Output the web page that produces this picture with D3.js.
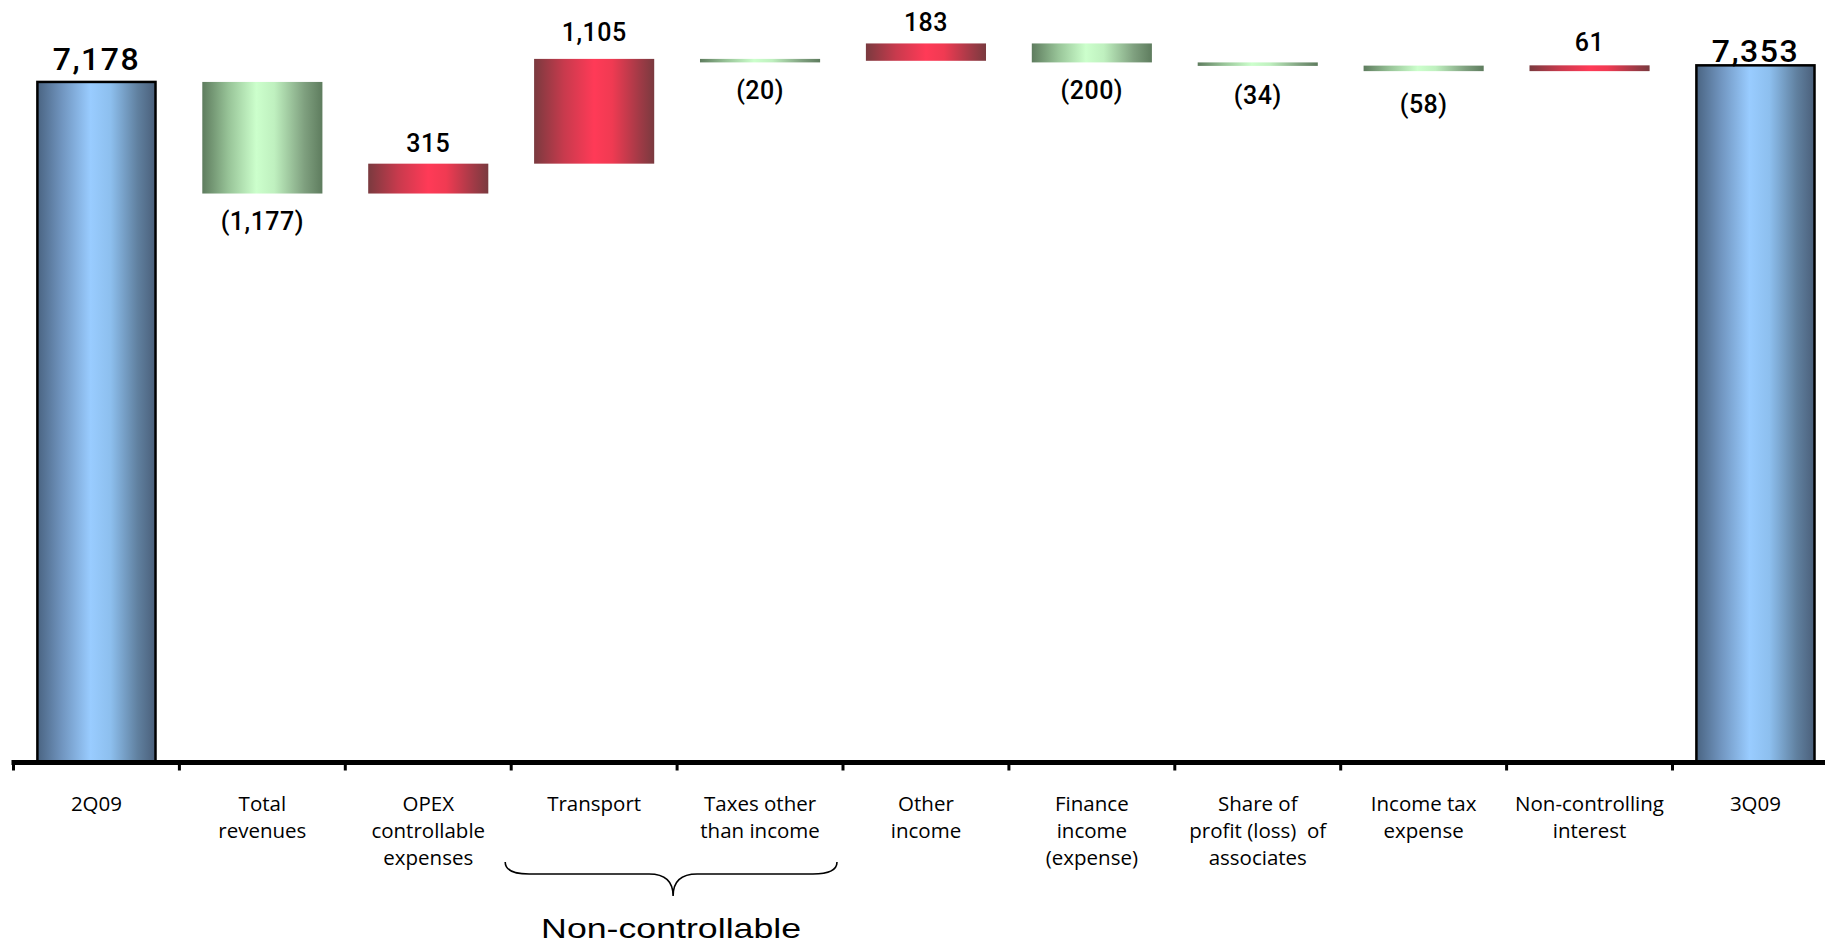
<!DOCTYPE html>
<html>
<head>
<meta charset="utf-8">
<script src="https://cdn.jsdelivr.net/npm/d3@7"></script>
<style>
  html, body { margin: 0; padding: 0; background: #ffffff; }
  svg { display: block; }
</style>
</head>
<body>
<svg id="chart" width="1825" height="944"></svg>
<script>
// Net income bridge, 2Q09 -> 3Q09
const categories = [
  "2Q09", "Total revenues", "OPEX controllable expenses", "Transport",
  "Taxes other than income", "Other income", "Finance income (expense)",
  "Share of profit (loss) of associates", "Income tax expense",
  "Non-controlling interest", "3Q09"
];
const categoryLines = [
  ["2Q09"], ["Total", "revenues"], ["OPEX", "controllable", "expenses"],
  ["Transport"], ["Taxes other", "than income"], ["Other", "income"],
  ["Finance", "income", "(expense)"], ["Share of", "profit (loss)  of", "associates"],
  ["Income tax", "expense"], ["Non-controlling", "interest"], ["3Q09"]
];
const values = [7178, -1177, 315, 1105, -20, 183, -200, -34, -58, 61, 7353];
const kinds = ["total", "delta", "delta", "delta", "delta", "delta", "delta", "delta", "delta", "delta", "total"];
const groupLabel = "Non-controllable";
const groupMembers = ["Transport", "Taxes other than income"];

// extra vertical offset (px) of each value label
const labelNudge = [0, 0, 0, -6, 2, 0, 1, 2, 6, -2, 0];

// running totals for the floating bars
let running = 0;
const bars = categories.map((c, i) => {
  let lo, hi;
  if (kinds[i] === "total") {
    running = values[i]; lo = 0; hi = values[i];
  } else {
    const start = running; running += values[i];
    lo = Math.min(start, running); hi = Math.max(start, running);
  }
  return { cat: c, lines: categoryLines[i], value: values[i], kind: kinds[i], lo, hi, nudge: labelNudge[i] };
});

const svg = d3.select("#chart");
const baseY = 762.5;

const x = d3.scaleBand()
  .domain(categories)
  .range([13.5, 13.5 + 11 * 165.9])
  .paddingInner(0.276)
  .paddingOuter(0.138);
const step = x.step();
const gapHalf = (step - x.bandwidth()) / 2;

const y = d3.scaleLinear().domain([0, 8000]).range([baseY, 4]);

// gradients
const defs = svg.append("defs");
function hGrad(id, stops) {
  const g = defs.append("linearGradient").attr("id", id)
    .attr("x1", "0%").attr("x2", "100%").attr("y1", "0%").attr("y2", "0%");
  stops.forEach(([o, c]) => g.append("stop").attr("offset", o).attr("stop-color", c));
}
hGrad("gBlue", [["0%", "#4a6482"], ["20%", "#6f93bd"], ["45%", "#99ccff"], ["62%", "#8dbfee"], ["85%", "#60809f"], ["100%", "#4a5f7a"]]);
hGrad("gGreen", [["0%", "#5e7c5e"], ["22%", "#98c498"], ["45%", "#ccffcc"], ["60%", "#bff0bf"], ["85%", "#7fa07f"], ["100%", "#5e7c5e"]]);
hGrad("gRed", [["0%", "#7a3a3f"], ["25%", "#c83a4d"], ["50%", "#ff3a57"], ["65%", "#f03a52"], ["88%", "#a03a46"], ["100%", "#7a3a3f"]]);

function fillFor(d) {
  if (d.kind === "total") return "url(#gBlue)";
  return d.value < 0 ? "url(#gGreen)" : "url(#gRed)";
}

// bars
svg.append("g").selectAll("rect")
  .data(bars)
  .join("rect")
  .attr("x", d => x(d.cat) + (d.kind === "total" ? 1 : 0))
  .attr("width", d => x.bandwidth() - (d.kind === "total" ? 2 : 0))
  .attr("y", d => y(d.hi))
  .attr("height", d => Math.max(3.5, y(d.lo) - y(d.hi)))
  .attr("fill", fillFor)
  .attr("stroke", d => d.kind === "total" ? "#000" : "none")
  .attr("stroke-width", 2.5);

// value labels
const fmt = d3.format(",");
svg.append("g").selectAll("text")
  .data(bars)
  .join("text")
  .attr("x", d => x(d.cat) + x.bandwidth() / 2)
  .attr("y", d => {
    let yy;
    if (d.kind === "total") yy = y(d.hi) - (d.cat === "3Q09" ? 3 : 12);
    else yy = d.value < 0 ? y(d.lo) + 36 : y(d.hi) - 12;
    return yy + d.nudge;
  })
  .attr("text-anchor", "middle")
  .attr("font-family", "Roboto, 'Liberation Sans', sans-serif")
  .attr("font-weight", 500)
  .attr("font-size", d => d.kind === "total" ? 32 : 25)
  .attr("letter-spacing", d => d.kind === "total" ? 1.5 : 0.5)
  .attr("fill", "#000")
  .text(d => d.value < 0 ? "(" + fmt(-d.value) + ")" : fmt(d.value));

// category axis
const axis = svg.append("g");
axis.append("line")
  .attr("x1", x.range()[0] - 2).attr("x2", 1825)
  .attr("y1", baseY).attr("y2", baseY)
  .attr("stroke", "#000").attr("stroke-width", 5);
axis.selectAll("line.tick")
  .data(categories)
  .join("line")
  .attr("class", "tick")
  .attr("x1", c => x(c) - gapHalf).attr("x2", c => x(c) - gapHalf)
  .attr("y1", baseY).attr("y2", baseY + 8)
  .attr("stroke", "#000").attr("stroke-width", 3);

const catText = axis.selectAll("text.cat")
  .data(bars)
  .join("text")
  .attr("class", "cat")
  .attr("text-anchor", "middle")
  .attr("font-family", "'Open Sans', sans-serif")
  .attr("font-size", 20.5)
  .attr("fill", "#000");
catText.selectAll("tspan")
  .data(d => d.lines.map(l => ({ l, cx: x(d.cat) + x.bandwidth() / 2 })))
  .join("tspan")
  .attr("x", t => t.cx)
  .attr("y", (t, i) => 811 + i * 27)
  .attr("xml:space", "preserve")
  .text(t => t.l);

// brace grouping the non-controllable items
const gx0 = x(groupMembers[0]) - gapHalf - 6;
const gx1 = x(groupMembers[groupMembers.length - 1]) + x.bandwidth() + gapHalf - 6;
const gmid = x(groupMembers[0]) + x.bandwidth() + gapHalf - 4;
const braceTop = 862, braceFlat = 874, braceTip = 896, braceR = 24;
const brace = d3.path();
brace.moveTo(gx0, braceTop);
brace.quadraticCurveTo(gx0, braceFlat, gx0 + braceR, braceFlat);
brace.lineTo(gmid - braceR, braceFlat);
brace.quadraticCurveTo(gmid, braceFlat, gmid, braceTip);
brace.quadraticCurveTo(gmid, braceFlat, gmid + braceR, braceFlat);
brace.lineTo(gx1 - braceR, braceFlat);
brace.quadraticCurveTo(gx1, braceFlat, gx1, braceTop);
svg.append("path")
  .attr("d", brace.toString())
  .attr("fill", "none")
  .attr("stroke", "#000")
  .attr("stroke-width", 1.6);

svg.append("text")
  .attr("x", gmid - 2)
  .attr("y", 938)
  .attr("text-anchor", "middle")
  .attr("font-family", "'Liberation Sans', Arial, sans-serif")
  .attr("font-size", 28)
  .attr("textLength", 260)
  .attr("lengthAdjust", "spacingAndGlyphs")
  .attr("fill", "#000")
  .text(groupLabel);
</script>
</body>
</html>
